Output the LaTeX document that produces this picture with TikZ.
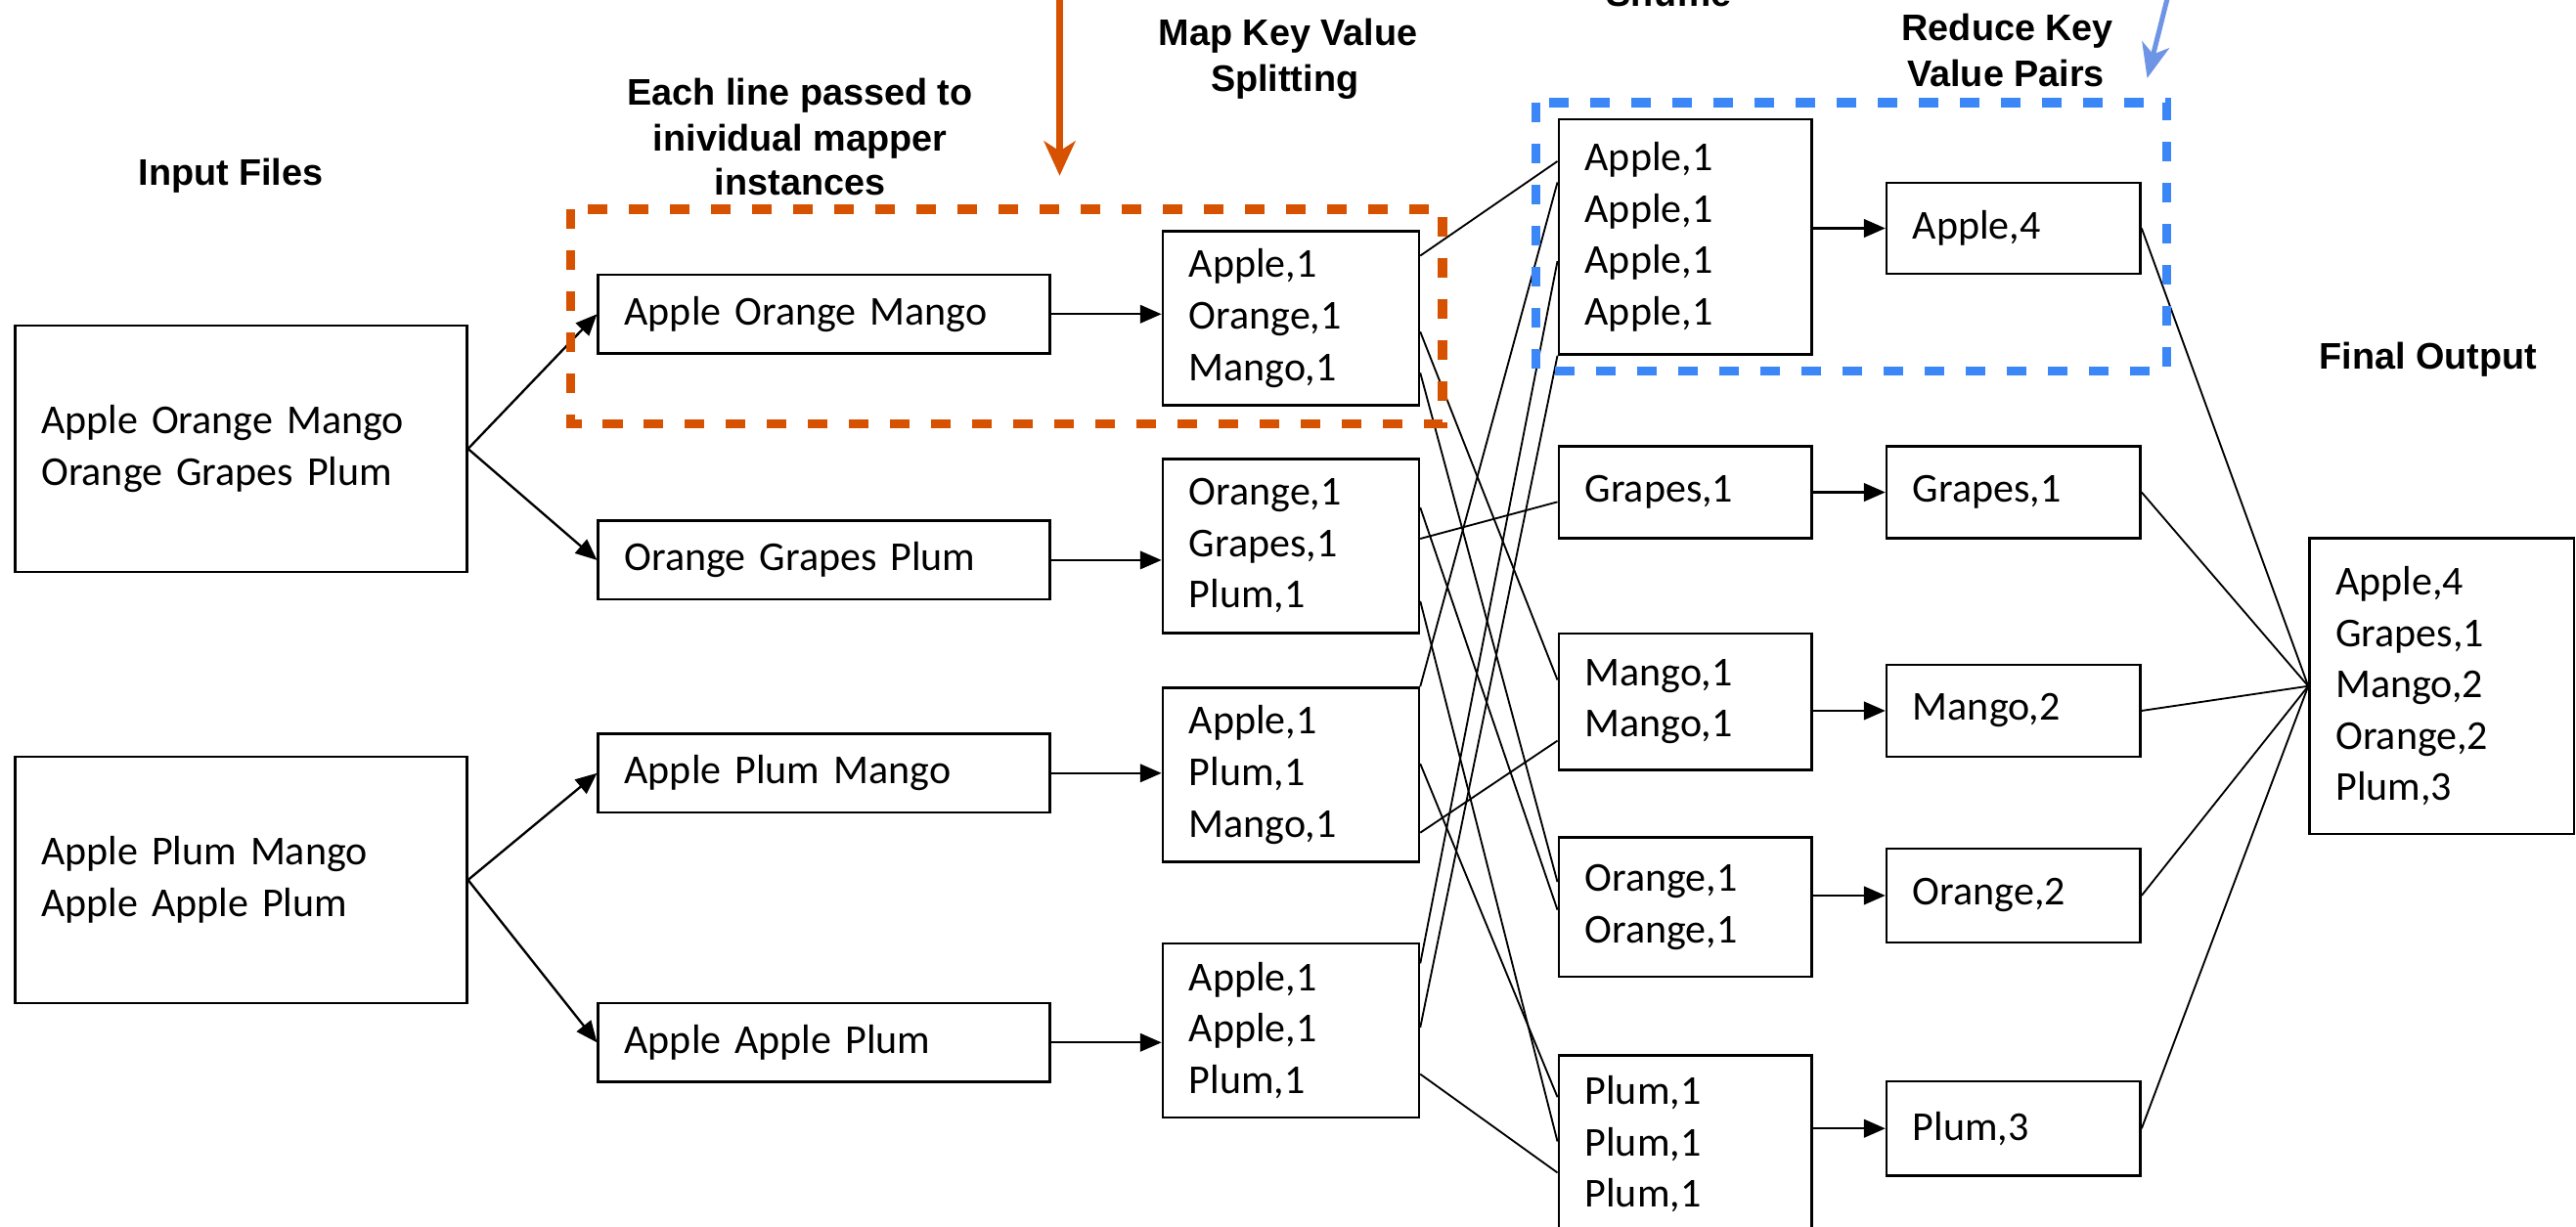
\documentclass[tikz,border=0pt]{standalone}
\usepackage{fontspec}
\setmainfont{Carlito}
\newfontfamily\ttlfont{Liberation Sans}
\usetikzlibrary{arrows.meta,calc}
\definecolor{ored}{RGB}{214,82,0}
\definecolor{bdash}{RGB}{59,135,247}
\definecolor{barrow}{RGB}{110,148,230}
\begin{document}
\begin{tikzpicture}[x=1pt,y=-1pt,
  box/.style={draw, line width=1.5pt, anchor=north west, inner xsep=16pt, inner ysep=0pt,
    align=left, font=\fontsize{25}{31.3}\selectfont},
  ttl/.style={anchor=base, inner sep=0pt, font={\ttlfont\bfseries\fontsize{22.5}{27.8}\selectfont}},
  arr/.style={line width=1.4pt, -{Triangle[length=13pt,width=11pt]}},
  link/.style={line width=1.1pt},
  odash/.style={draw=ored, line width=5.5pt, dash pattern=on 12pt off 13pt},
  bdashed/.style={draw=bdash, line width=5.5pt, dash pattern=on 12pt off 13pt},
  oarrow/.style={draw=ored, line width=4pt, -{Stealth[length=21pt,width=19pt,inset=6pt]}},
  barr/.style={draw=barrow, line width=3pt, -{Stealth[length=21pt,width=17pt,inset=6pt]}}
]
\useasboundingbox (0,0) rectangle (1568,746.5);

% titles
\node[ttl] (tin) at (140.5,113) {Input Files};
\node[ttl] (te1) at (487,64) {Each line passed to};
\node[ttl] (te2) at (487,91.7) {inividual mapper};
\node[ttl] (te3) at (487,119) {instances};
\node[ttl] (tm1) at (784,27.8) {Map Key Value};
\node[ttl] (tm2) at (782,55.6) {Splitting};
\node[ttl] (tsh) at (1016,4) {Shuffle};
\node[ttl] (tr1) at (1222,24.8) {Reduce Key};
\node[ttl] (tr2) at (1221,52.6) {Value Pairs};
\node[ttl] (tfo) at (1478,225) {Final Output};

% input files
\node[box, minimum width=275pt, minimum height=150pt, text width=243pt] (I1) at (8.4,197.5) {Apple Orange Mango\\Orange Grapes Plum};
\node[box, minimum width=275pt, minimum height=150pt, text width=243pt] (I2) at (8.4,460) {Apple Plum Mango\\Apple Apple Plum};

% split lines
\node[box, minimum width=275pt, minimum height=48pt, text width=243pt] (S1) at (363.4,166.5) {Apple Orange Mango};
\node[box, minimum width=275pt, minimum height=48pt, text width=243pt] (S2) at (363.4,316.3) {Orange Grapes Plum};
\node[box, minimum width=275pt, minimum height=48pt, text width=243pt] (S3) at (363.4,446) {Apple Plum Mango};
\node[box, minimum width=275pt, minimum height=48pt, text width=243pt] (S4) at (363.4,610) {Apple Apple Plum};

% map
\node[box, minimum width=156pt, minimum height=106pt, text width=124pt] (M1) at (707,140) {Apple,1\\Orange,1\\Mango,1};
\node[box, minimum width=156pt, minimum height=106pt, text width=124pt] (M2) at (707,278.6) {Orange,1\\Grapes,1\\Plum,1};
\node[box, minimum width=156pt, minimum height=106pt, text width=124pt] (M3) at (707,418) {Apple,1\\Plum,1\\Mango,1};
\node[box, minimum width=156pt, minimum height=106pt, text width=124pt] (M4) at (707,573.6) {Apple,1\\Apple,1\\Plum,1};

% shuffle
\node[box, minimum width=154pt, minimum height=143pt, text width=122pt] (H1) at (948,72) {Apple,1\\Apple,1\\Apple,1\\Apple,1};
\node[box, minimum width=154pt, minimum height=56pt, text width=122pt] (H2) at (948,271) {Grapes,1};
\node[box, minimum width=154pt, minimum height=83pt, text width=122pt] (H3) at (948,385) {Mango,1\\Mango,1};
\node[box, minimum width=154pt, minimum height=85pt, text width=122pt] (H4) at (948,509) {Orange,1\\Orange,1};
\node[box, minimum width=154pt, minimum height=108pt, text width=122pt] (H5) at (948,642) {Plum,1\\Plum,1\\Plum,1};

% reduce
\node[box, minimum width=154.5pt, minimum height=55.5pt, text width=122.5pt] (R1) at (1147.6,110.5) {Apple,4};
\node[box, minimum width=154.5pt, minimum height=56pt, text width=122.5pt] (R2) at (1147.6,271) {Grapes,1};
\node[box, minimum width=154.5pt, minimum height=56pt, text width=122.5pt] (R3) at (1147.6,404) {Mango,2};
\node[box, minimum width=154.5pt, minimum height=57pt, text width=122.5pt] (R4) at (1147.6,516) {Orange,2};
\node[box, minimum width=154.5pt, minimum height=57.3pt, text width=122.5pt] (R5) at (1147.6,657.7) {Plum,3};

% final
\node[box, minimum width=161pt, minimum height=180pt, text width=129pt] (F) at (1405,327) {Apple,4\\Grapes,1\\Mango,2\\Orange,2\\Plum,3};

% input -> split
\draw[arr] (I1.east) -- (S1.west);
\draw[arr] (I1.east) -- (S2.west);
\draw[arr] (I2.east) -- (S3.west);
\draw[arr] (I2.east) -- (S4.west);

% split -> map
\foreach \i in {1,2,3,4}{
  \draw[arr] (S\i.east) -- (S\i.east -| M\i.west);
}

% map -> shuffle
\draw[link] ($(M1.north east)+(0,15.7)$) -- ($(H1.north west)+(0,26.2)$);
\draw[link] ($(M1.north east)+(0,62)$) -- ($(H3.north west)+(0,29)$);
\draw[link] ($(M1.north east)+(0,87)$) -- ($(H4.north west)+(0,28)$);
\draw[link] ($(M2.north east)+(0,30.4)$) -- ($(H4.north west)+(0,45)$);
\draw[link] ($(M2.north east)+(0,49.4)$) -- ($(H2.north west)+(0,34.6)$);
\draw[link] ($(M2.north east)+(0,87.4)$) -- ($(H5.north west)+(0,53)$);
\draw[link] (M3.north east) -- ($(H1.north west)+(0,39)$);
\draw[link] ($(M3.north east)+(0,47)$) -- ($(H5.north west)+(0,26)$);
\draw[link] ($(M3.north east)+(0,89)$) -- ($(H3.north west)+(0,66)$);
\draw[link] ($(M4.north east)+(0,13)$) -- ($(H1.north west)+(0,87)$);
\draw[link] ($(M4.north east)+(0,52)$) -- (H1.south west);
\draw[link] ($(M4.north east)+(0,80.4)$) -- ($(H5.north west)+(0,72)$);

% shuffle -> reduce
\foreach \i in {1,...,5}{
  \draw[arr] (R\i.west -| H\i.east) -- (R\i.west);
}

% reduce -> final
\foreach \i in {1,...,5}{
  \draw[link] (R\i.east) -- (F.west);
}

% highlight boxes
\draw[odash] (347.5,127.4) rectangle (878,258);
\draw[bdashed] (935,62.5) rectangle (1319,226);

% pointer arrows
\coordinate (oa) at (645,-10);
\coordinate (ob) at (645,107);
\draw[oarrow] (oa) -- (ob);
\coordinate (ba) at (1321.5,-10);
\coordinate (bb) at (1307,47.6);
\draw[barr] (ba) -- (bb);
\end{tikzpicture}
\end{document}
